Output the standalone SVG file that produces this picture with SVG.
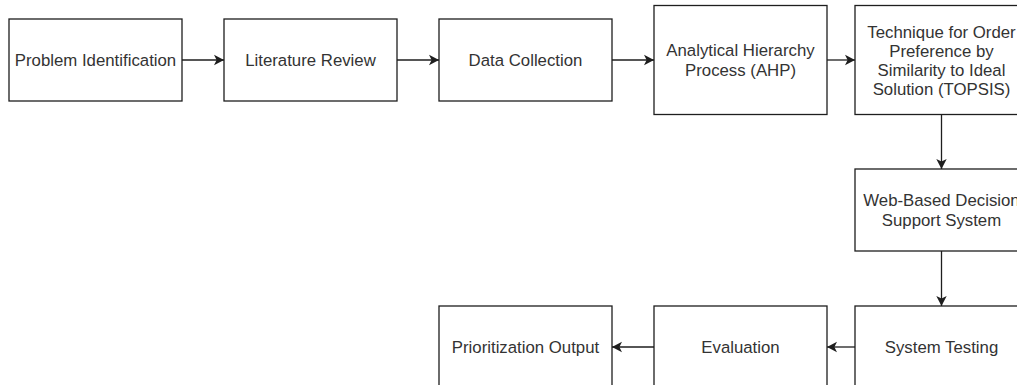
<svg xmlns="http://www.w3.org/2000/svg" width="1017" height="385" viewBox="0 0 1017 385">
  <style>
    .box { fill: #ffffff; stroke: #1e1e1e; stroke-width: 1.3; }
    .lbl { font-family: "Liberation Sans", Arial, sans-serif; font-size: 16.8px; fill: #333333; text-anchor: middle; }
    .edge { fill: none; stroke: #1e1e1e; stroke-width: 1.3; marker-end: url(#arrow); }
  </style>
  <defs>
    <marker id="arrow" markerUnits="userSpaceOnUse" markerWidth="12" markerHeight="12" viewBox="0 0 12 12" refX="11" refY="6" orient="auto">
      <path d="M1,0.8 L11,6 L1,11.2 L3.6,6 Z" fill="#1e1e1e"/>
    </marker>
  </defs>
  <rect width="1017" height="385" fill="#ffffff"/>

  <g id="connectors">
    <path class="edge" d="M182,60 L224,60"/>
    <path class="edge" d="M397,60 L439,60"/>
    <path class="edge" d="M612,60 L654,60"/>
    <path class="edge" d="M827,60 L855,60"/>
    <path class="edge" d="M941.5,114.5 L941.5,169"/>
    <path class="edge" d="M941.5,251 L941.5,306"/>
    <path class="edge" d="M855,347 L827,347"/>
    <path class="edge" d="M654,347 L612,347"/>
  </g>

  <g id="problem-identification">
    <rect class="box" x="9" y="19" width="173" height="82"/>
    <text class="lbl" x="95.5" y="66">Problem Identification</text>
  </g>
  <g id="literature-review">
    <rect class="box" x="224" y="19" width="173" height="82"/>
    <text class="lbl" x="310.5" y="66">Literature Review</text>
  </g>
  <g id="data-collection">
    <rect class="box" x="439" y="19" width="173" height="82"/>
    <text class="lbl" x="525.5" y="66">Data Collection</text>
  </g>
  <g id="ahp">
    <rect class="box" x="654" y="5.5" width="173" height="109"/>
    <text class="lbl" x="740.5" y="56.4">Analytical Hierarchy</text>
    <text class="lbl" x="740.5" y="75.7">Process (AHP)</text>
  </g>
  <g id="topsis">
    <rect class="box" x="855" y="5.5" width="173" height="109"/>
    <text class="lbl" x="941.5" y="37.5">Technique for Order</text>
    <text class="lbl" x="941.5" y="56.8">Preference by</text>
    <text class="lbl" x="941.5" y="76.1">Similarity to Ideal</text>
    <text class="lbl" x="941.5" y="95.4">Solution (TOPSIS)</text>
  </g>
  <g id="web-dss">
    <rect class="box" x="855" y="169" width="173" height="82"/>
    <text class="lbl" x="941.5" y="206.4">Web-Based Decision</text>
    <text class="lbl" x="941.5" y="225.7">Support System</text>
  </g>
  <g id="system-testing">
    <rect class="box" x="855" y="306" width="173" height="82"/>
    <text class="lbl" x="941.5" y="353">System Testing</text>
  </g>
  <g id="evaluation">
    <rect class="box" x="654" y="306" width="173" height="82"/>
    <text class="lbl" x="740.5" y="353">Evaluation</text>
  </g>
  <g id="prioritization-output">
    <rect class="box" x="439" y="306" width="173" height="82"/>
    <text class="lbl" x="525.5" y="353">Prioritization Output</text>
  </g>
</svg>
